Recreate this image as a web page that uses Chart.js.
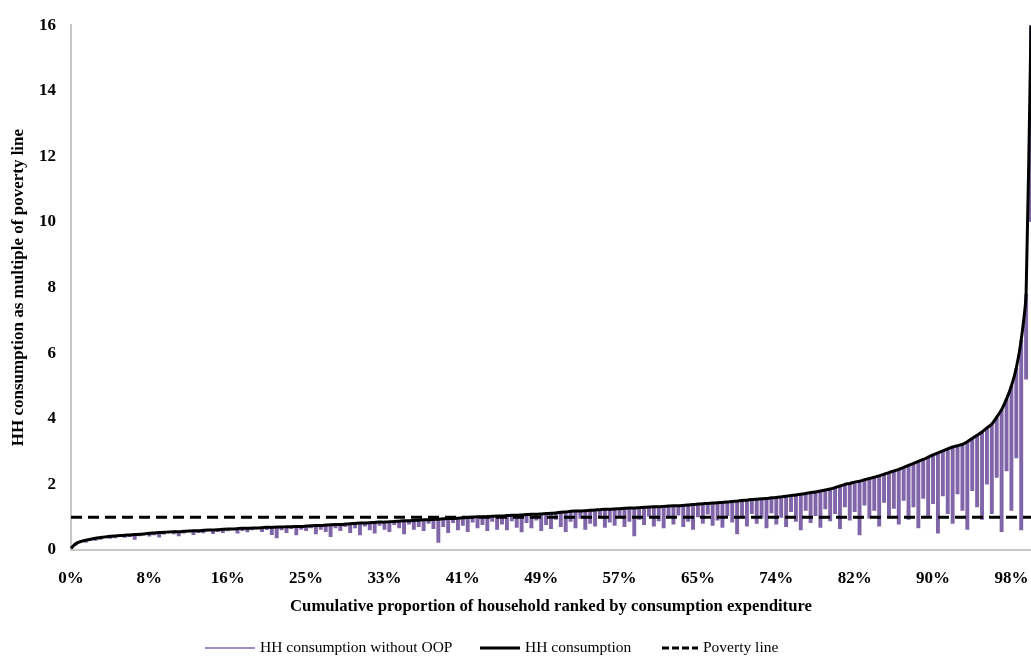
<!DOCTYPE html>
<html>
<head>
<meta charset="utf-8">
<script src="https://cdn.jsdelivr.net/npm/chart.js@4.4.1/dist/chart.umd.min.js"></script>
<style>
  html, body { margin: 0; padding: 0; background: #fff; }
  #wrap { width: 1031px; height: 659px; }
</style>
</head>
<body>
<div id="wrap"><canvas id="myChart" width="1031" height="659"></canvas></div>
<script>
// tick labels shown under every 16th household group
const tickLabels = ['0%', '8%', '16%', '25%', '33%', '41%', '49%', '57%', '65%', '74%', '82%', '90%', '98%'];
const yTicks = [0, 2, 4, 6, 8, 10, 12, 14, 16];
const povertyLine = 1;
const seriesNames = ['HH consumption without OOP', 'HH consumption', 'Poverty line'];

// HH consumption (multiple of poverty line), households ranked
const hhConsumption = [
  0.05, 0.20, 0.26, 0.30, 0.33, 0.36, 0.38, 0.40, 0.42, 0.43,
  0.44, 0.45, 0.46, 0.47, 0.48, 0.49, 0.51, 0.52, 0.53, 0.54,
  0.55, 0.56, 0.56, 0.57, 0.58, 0.59, 0.59, 0.60, 0.61, 0.61,
  0.62, 0.63, 0.64, 0.64, 0.65, 0.66, 0.66, 0.67, 0.67, 0.68,
  0.69, 0.69, 0.70, 0.70, 0.71, 0.71, 0.72, 0.72, 0.73, 0.74,
  0.75, 0.75, 0.76, 0.77, 0.78, 0.78, 0.79, 0.80, 0.81, 0.82,
  0.82, 0.83, 0.84, 0.85, 0.85, 0.86, 0.87, 0.88, 0.89, 0.89,
  0.90, 0.91, 0.92, 0.92, 0.93, 0.94, 0.95, 0.96, 0.96, 0.97,
  0.98, 0.99, 1.00, 1.01, 1.01, 1.02, 1.03, 1.04, 1.04, 1.05,
  1.06, 1.06, 1.07, 1.08, 1.09, 1.09, 1.10, 1.11, 1.12, 1.13,
  1.15, 1.16, 1.18, 1.19, 1.19, 1.20, 1.21, 1.22, 1.23, 1.24,
  1.24, 1.25, 1.26, 1.27, 1.28, 1.28, 1.29, 1.30, 1.31, 1.32,
  1.32, 1.33, 1.34, 1.35, 1.35, 1.36, 1.37, 1.39, 1.40, 1.41,
  1.42, 1.43, 1.44, 1.45, 1.46, 1.48, 1.49, 1.51, 1.52, 1.54,
  1.55, 1.56, 1.57, 1.59, 1.60, 1.62, 1.64, 1.66, 1.68, 1.70,
  1.72, 1.75, 1.77, 1.80, 1.83, 1.86, 1.90, 1.95, 2.00, 2.03,
  2.07, 2.10, 2.14, 2.18, 2.22, 2.26, 2.31, 2.36, 2.41, 2.46,
  2.52, 2.58, 2.64, 2.70, 2.76, 2.83, 2.90, 2.96, 3.02, 3.08,
  3.14, 3.18, 3.22, 3.30, 3.40, 3.50, 3.60, 3.72, 3.84, 4.05,
  4.28, 4.60, 5.00, 5.55, 6.40, 7.80, 16.0
];

// HH consumption without OOP payments, same households
const hhWithoutOop = [
  0.05, 0.14, 0.26, 0.22, 0.33, 0.28, 0.31, 0.40, 0.34, 0.36,
  0.44, 0.37, 0.40, 0.31, 0.42, 0.49, 0.41, 0.45, 0.38, 0.47,
  0.55, 0.48, 0.42, 0.50, 0.58, 0.46, 0.52, 0.51, 0.61, 0.49,
  0.55, 0.52, 0.57, 0.64, 0.50, 0.58, 0.54, 0.60, 0.67, 0.55,
  0.61, 0.46, 0.36, 0.60, 0.52, 0.64, 0.45, 0.62, 0.58, 0.66,
  0.48, 0.62, 0.55, 0.40, 0.66, 0.58, 0.70, 0.52, 0.66, 0.45,
  0.72, 0.60, 0.50, 0.74, 0.62, 0.55, 0.76, 0.66, 0.48, 0.78,
  0.62, 0.70, 0.58, 0.80, 0.64, 0.22, 0.70, 0.52, 0.82, 0.60,
  0.74, 0.55, 0.84, 0.66, 0.76, 0.58, 0.86, 0.62, 0.78, 0.60,
  0.88, 0.68, 0.54, 0.82, 0.66, 0.90, 0.58, 0.76, 0.64, 0.92,
  0.70, 0.55, 0.86, 0.66, 0.95, 0.62, 0.80, 0.72, 0.96, 0.68,
  0.84, 0.74, 1.00, 0.70, 0.86, 0.42, 0.92, 0.76, 1.02, 0.72,
  0.88, 0.66, 0.98, 0.78, 1.05, 0.70, 0.86, 0.62, 1.00, 0.80,
  1.08, 0.74, 0.90, 0.68, 1.04, 0.84, 0.48, 0.96, 0.72, 1.10,
  0.80, 0.96, 0.66, 1.12, 0.78, 0.98, 0.70, 1.16, 0.86, 0.60,
  1.20, 0.82, 1.04, 0.68, 1.24, 0.88, 1.10, 0.64, 1.30, 0.90,
  1.16, 0.45, 1.36, 0.96, 1.20, 0.72, 1.44, 1.00, 1.26, 0.78,
  1.50, 0.92, 1.30, 0.66, 1.56, 1.02, 1.40, 0.50, 1.64, 1.10,
  0.80, 1.70, 1.20, 0.62, 1.80, 1.30, 0.92, 2.00, 1.10, 2.20,
  0.55, 2.40, 1.20, 2.80, 0.60, 5.20, 10.0
];

const categories = hhConsumption.map((v, i) => String(i));
const purple = 'rgba(114, 84, 160, 0.9)';
const serif = '"Liberation Serif", "Times New Roman", serif';

// legend drawn by hand so that spacing follows the original figure
const legendPlugin = {
  id: 'bottomLegend',
  afterDraw(chart) {
    const c = chart.ctx;
    const y = 648;
    const items = [
      { x0: 205, x1: 255, color: purple, width: 1.5, dash: [] },
      { x0: 480, x1: 520, color: '#000', width: 3, dash: [] },
      { x0: 662, x1: 698, color: '#000', width: 3, dash: [7, 3] }
    ];
    c.save();
    c.font = '15.5px ' + serif;
    c.fillStyle = '#000';
    c.textBaseline = 'middle';
    items.forEach((it, k) => {
      c.beginPath();
      c.strokeStyle = it.color;
      c.lineWidth = it.width;
      c.setLineDash(it.dash);
      c.moveTo(it.x0, y);
      c.lineTo(it.x1, y);
      c.stroke();
      c.fillText(seriesNames[k], it.x1 + 5, y);
    });
    c.restore();
  }
};

const ctx = document.getElementById('myChart').getContext('2d');
const myChart = new Chart(ctx, {
  type: 'bar',
  data: {
    labels: categories,
    datasets: [{
      label: seriesNames[0],
      data: hhWithoutOop.map((v, i) => [v, hhConsumption[i]]),
      backgroundColor: purple,
      borderWidth: 0,
      categoryPercentage: 1,
      barPercentage: 0.8,
      order: 3
    }, {
      type: 'line',
      label: seriesNames[1],
      data: hhConsumption,
      borderColor: '#000',
      borderWidth: 3,
      pointRadius: 0,
      tension: 0.2,
      order: 1
    }, {
      type: 'line',
      label: seriesNames[2],
      data: [
        { x: categories[0], y: povertyLine },
        { x: categories[categories.length - 1], y: povertyLine }
      ],
      borderColor: '#000',
      borderWidth: 3,
      borderDash: [11, 6],
      pointRadius: 0,
      order: 2
    }]
  },
  options: {
    responsive: false,
    animation: false,
    layout: { padding: { top: 8, right: 0, bottom: 34, left: 0 } },
    plugins: {
      tooltip: { enabled: false },
      legend: { display: false }
    },
    scales: {
      x: {
        offset: false,
        grid: { display: false, offset: false, drawTicks: false },
        border: { display: true, color: '#c8c8c8', width: 2 },
        ticks: {
          autoSkip: false,
          maxRotation: 0,
          padding: 18,
          color: '#000',
          font: { family: serif, size: 17, weight: 'bold' },
          callback: (val, i) => (i % 16 === 0 ? tickLabels[i / 16] : '')
        },
        title: {
          display: true,
          text: 'Cumulative proportion of household ranked by consumption expenditure',
          color: '#000',
          font: { family: serif, size: 16.7, weight: 'bold' },
          padding: { top: 8, bottom: 8 }
        },
        afterFit: (scale) => {
          scale.height = 75;
          scale.paddingLeft = 0;
          scale.paddingRight = 0;
        }
      },
      y: {
        min: 0,
        max: 16,
        grid: { display: false, drawTicks: false },
        border: { display: true, color: '#c8c8c8', width: 2 },
        afterBuildTicks: (scale) => { scale.ticks = yTicks.map(v => ({ value: v })); },
        ticks: {
          padding: 15,
          color: '#000',
          font: { family: serif, size: 17, weight: 'bold' }
        },
        title: {
          display: true,
          text: 'HH consumption as multiple of poverty line',
          color: '#000',
          font: { family: serif, size: 17, weight: 'bold' },
          padding: { top: 8, bottom: 0 }
        },
        afterFit: (scale) => { scale.width = 71; }
      }
    }
  },
  plugins: [legendPlugin]
});
</script>
</body>
</html>
